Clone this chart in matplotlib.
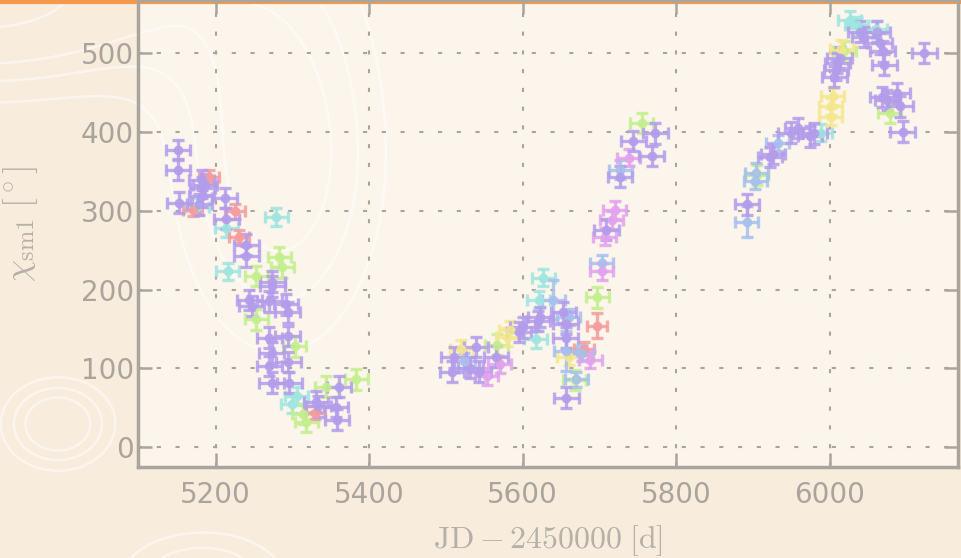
import numpy as np
import matplotlib
matplotlib.use("Agg")
import matplotlib.pyplot as plt
from matplotlib.patches import Rectangle

plt.rcParams['mathtext.fontset'] = 'cm'
plt.rcParams['font.family'] = ['DejaVu Sans']

# Daten (JD-2450000, chi_sm1 in Grad), eine Liste pro Farbe
purple_x = [5151, 5151, 5153, 5179, 5182, 5183, 5182, 5186, 5212, 5214, 5240, 5240,
            5244, 5247, 5270, 5274, 5274, 5292, 5294, 5270, 5273, 5270, 5273, 5294,
            5295, 5296, 5331, 5334, 5361, 5357, 5358,
            5510, 5508, 5539, 5532, 5543, 5565, 5595, 5600, 5623, 5620, 5653, 5656,
            5656, 5657, 5727, 5744, 5768, 5773, 5709,
            5892, 5922, 5926, 5949, 5958, 5974, 5980, 6006, 6008, 6010, 6013, 6040,
            6045, 6062, 6065, 6069, 6071, 6075, 6068, 6088, 6092, 6095, 6123]
purple_y = [377, 352, 310, 308, 339, 329, 318, 333, 316, 290, 257, 242,
            187, 179, 185, 210, 204, 181, 171, 139, 120, 103, 82, 141,
            108, 82, 58, 52, 77, 51, 35,
            114, 96, 127, 101, 96, 115, 146, 152, 165, 160, 171, 156,
            139, 63, 343, 388, 369, 398, 276,
            308, 368, 372, 399, 405, 394, 398, 470, 478, 487, 494, 527,
            520, 527, 512, 502, 485, 440, 444, 449, 432, 400, 500]

cyan_x = [5176, 5214, 5216, 5279, 5306, 5300, 5617, 5627, 5621, 5988, 6026, 6035, 6060]
cyan_y = [305, 278, 223, 292, 65, 55, 137, 215, 187, 399, 542, 535, 530]

green_x = [5283, 5287, 5253, 5253, 5303, 5318, 5314, 5344, 5383, 5566, 5697, 5755,
           5668, 6019, 6078, 5905]
green_y = [241, 228, 217, 162, 128, 32, 42, 77, 86, 130, 190, 411,
           85, 502, 424, 345]

yellow_x = [5584, 5520, 5660, 6001, 6001, 6004, 6015, 5580]
yellow_y = [149, 125, 115, 432, 419, 445, 505, 140]

red_x = [5170, 5192, 5225, 5231, 5697, 5329, 5680]
red_y = [301, 343, 299, 267, 154, 44, 125]
red_yerr = [8, 8, 10, 8, 16, 8, 8]

blue_x = [5523, 5640, 5656, 5677, 5670, 5703, 5727, 5892, 5904, 5903, 5932, 5660]
blue_y = [109, 187, 122, 120, 86, 234, 352, 286, 348, 337, 386, 165]
blue_yerr = [10, 25, 25, 10, 10, 10, 12, 20, 12, 10, 10, 10]

magenta_x = [5553, 5688, 5703, 5720, 5716, 5738, 5707, 5570]
magenta_y = [90, 111, 223, 301, 288, 367, 267, 105]

grey = '#aaa59c'

fig = plt.figure(figsize=(9.61, 5.58), dpi=100, facecolor='#f8ecdd')

# Hintergrund mit hellen Konturlinien
bg = fig.add_axes([0, 0, 1, 1], zorder=-1)
bg.set_xlim(0, 1)
bg.set_ylim(0, 1)
bg.axis('off')
ax_l, ax_b, ax_w, ax_h = 138 / 961, 91 / 558, 820 / 961, 467 / 558
bg.add_patch(Rectangle((ax_l, ax_b), ax_w, ax_h, color='#fcf5eb', zorder=0))
gx, gy = np.meshgrid(np.linspace(0, 1, 300), np.linspace(0, 1, 300))
field = (np.exp(-((gx + 0.02) ** 2 / 0.05 + (gy - 1.02) ** 2 / 0.03))
         + 0.8 * np.exp(-((gx - 0.06) ** 2 / 0.003 + (gy - 0.24) ** 2 / 0.006))
         + 0.7 * np.exp(-((gx - 0.29) ** 2 / 0.012 + (gy - 0.72) ** 2 / 0.12))
         + 0.6 * np.exp(-((gx - 0.21) ** 2 / 0.008 + (gy + 0.04) ** 2 / 0.008)))
bg.contour(gx, gy, field, levels=[0.25, 0.4, 0.55, 0.85], colors='white',
           linewidths=1.8, alpha=0.5, zorder=1)
bg.axhline(0.997, color='#f39a4e', lw=3, zorder=2)

ax = fig.add_axes([ax_l, ax_b, ax_w, ax_h])
ax.set_facecolor('none')

style = dict(fmt='o', ms=6, elinewidth=2.4, capsize=4, capthick=2.4, alpha=0.85)
ax.errorbar(cyan_x, cyan_y, xerr=15, yerr=11, color='#9ee6e0', **style)
ax.errorbar(green_x, green_y, xerr=15, yerr=13, color='#c4ef8e', **style)
ax.errorbar(yellow_x, yellow_y, xerr=15, yerr=11, color='#f5e78e', **style)
ax.errorbar(red_x, red_y, xerr=13, yerr=red_yerr, color='#f79c9c', **style)
ax.errorbar(blue_x, blue_y, xerr=15, yerr=blue_yerr, color='#a7c0ed', **style)
ax.errorbar(magenta_x, magenta_y, xerr=15, yerr=11, color='#e3a2ee', **style)
ax.errorbar(purple_x, purple_y, xerr=16, yerr=13, color='#b39deb', **style)

ax.set_xlim(5099, 6167)
ax.set_ylim(-25, 567)
ax.set_xticks([5200, 5400, 5600, 5800, 6000])
ax.set_yticks([0, 100, 200, 300, 400, 500])

ax.grid(True, color=grey, lw=1.5, linestyle=(0, (2, 7)))
for s in ax.spines.values():
    s.set_color(grey)
    s.set_linewidth(2.5)
ax.tick_params(direction='in', length=10, width=1.8, color=grey, labelcolor=grey,
               labelsize=20, top=True, right=True)
ax.tick_params(axis='x', pad=10)
ax.tick_params(axis='y', pad=3)

ax.set_xlabel(r'$\mathrm{JD}-2450000\;[\mathrm{d}]$', fontsize=23, color='#b5b0a8')
ax.set_ylabel(r'$\chi_{\mathrm{sm1}}\;[^\circ]$', fontsize=25, color='#b5b0a8')
ax.xaxis.set_label_coords(0.5, -0.12)
ax.yaxis.set_label_coords(-0.12, 0.52)

fig.savefig('out.png', dpi=100, facecolor=fig.get_facecolor())
